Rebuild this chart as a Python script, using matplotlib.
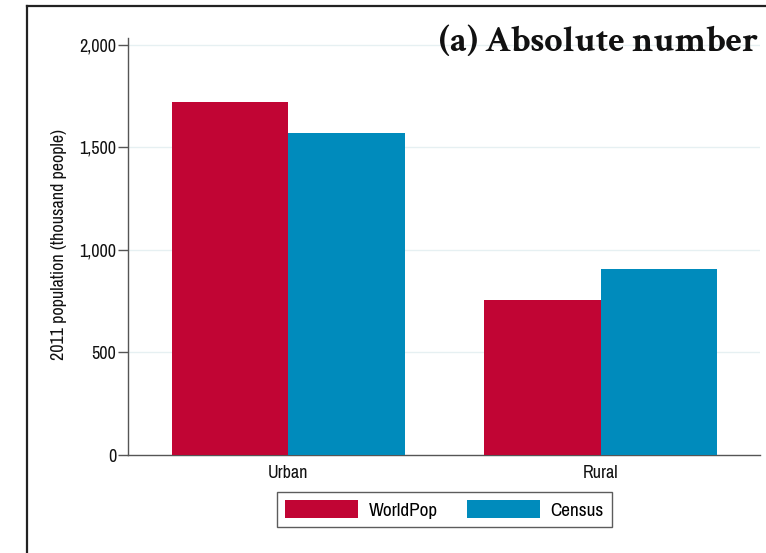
import matplotlib
matplotlib.use("Agg")
import matplotlib.pyplot as plt
from matplotlib.lines import Line2D
import numpy as np

# Data (thousand people, 2011)
categories = ["Urban", "Rural"]
series_names = ["WorldPop", "Census"]
worldpop = [1723, 756]
census = [1569, 907]
y_ticks = [0, 500, 1000, 1500, 2000]
y_tick_labels = ["0", "500", "1,000", "1,500", "2,000"]

colors = ["#C10534", "#008BBC"]

plt.rcParams["font.family"] = ["Archivo Narrow", "Liberation Sans", "DejaVu Sans"]
fs = 13

fig = plt.figure(figsize=(7.66, 5.53), dpi=100)
ax = fig.add_axes([0.1671, 0.1772, 0.9922 - 0.1671, 0.9313 - 0.1772])

x = np.arange(len(categories))
w = 0.373
b1 = ax.bar(x - w / 2, worldpop, width=w, color=colors[0], label=series_names[0], zorder=3)
b2 = ax.bar(x + w / 2, census, width=w, color=colors[1], label=series_names[1], zorder=3)

ax.set_xlim(-0.514, 1.511)
ax.set_ylim(0, 2034)
ax.set_yticks(y_ticks)
ax.set_yticklabels(y_tick_labels, fontsize=fs, color="#111111")
ax.set_xticks(x)
ax.set_xticklabels(categories, fontsize=fs, color="#111111")

for v in y_ticks[1:]:
    ax.axhline(v, color="#E6F0F2", lw=1.0, zorder=1)

for s in ["top", "right"]:
    ax.spines[s].set_visible(False)
for s in ["left", "bottom"]:
    ax.spines[s].set_color("#555555")
    ax.spines[s].set_linewidth(1.0)

ax.tick_params(axis="y", length=7, width=1.0, color="#555555", pad=1.5)
ax.tick_params(axis="x", length=0, pad=7)

ax.set_ylabel("2011 population (thousand people)", fontsize=fs, color="#111111")
ax.yaxis.set_label_coords(-0.0965, 0.504)

leg = fig.legend(handles=[b1, b2], labels=series_names, loc="center",
                 bbox_to_anchor=(444.5 / 766, 1 - 509.5 / 553), ncol=2,
                 fontsize=13.8, frameon=True, fancybox=False,
                 handlelength=3.8, handleheight=1.0, handletextpad=0.55,
                 columnspacing=1.55, borderpad=0.45, borderaxespad=0)
leg.get_frame().set_edgecolor("#333333")
leg.get_frame().set_linewidth(1.0)

fig.text(758 / 766, 1 - 51 / 553, "(a) Absolute number", ha="right", va="baseline",
         fontsize=26, fontweight="bold",
         family=["Crimson Text", "EB Garamond", "Liberation Serif", "DejaVu Serif"],
         color="#111111")

# panel frame (top and left edges)
fig.add_artist(Line2D([27 / 766, 1.0], [1 - 6 / 553, 1 - 6 / 553],
                      transform=fig.transFigure, color="#222222", lw=1.6))
fig.add_artist(Line2D([27 / 766, 27 / 766], [1 - 6 / 553, 0.0],
                      transform=fig.transFigure, color="#222222", lw=1.6))

fig.savefig("out.png", dpi=100)
